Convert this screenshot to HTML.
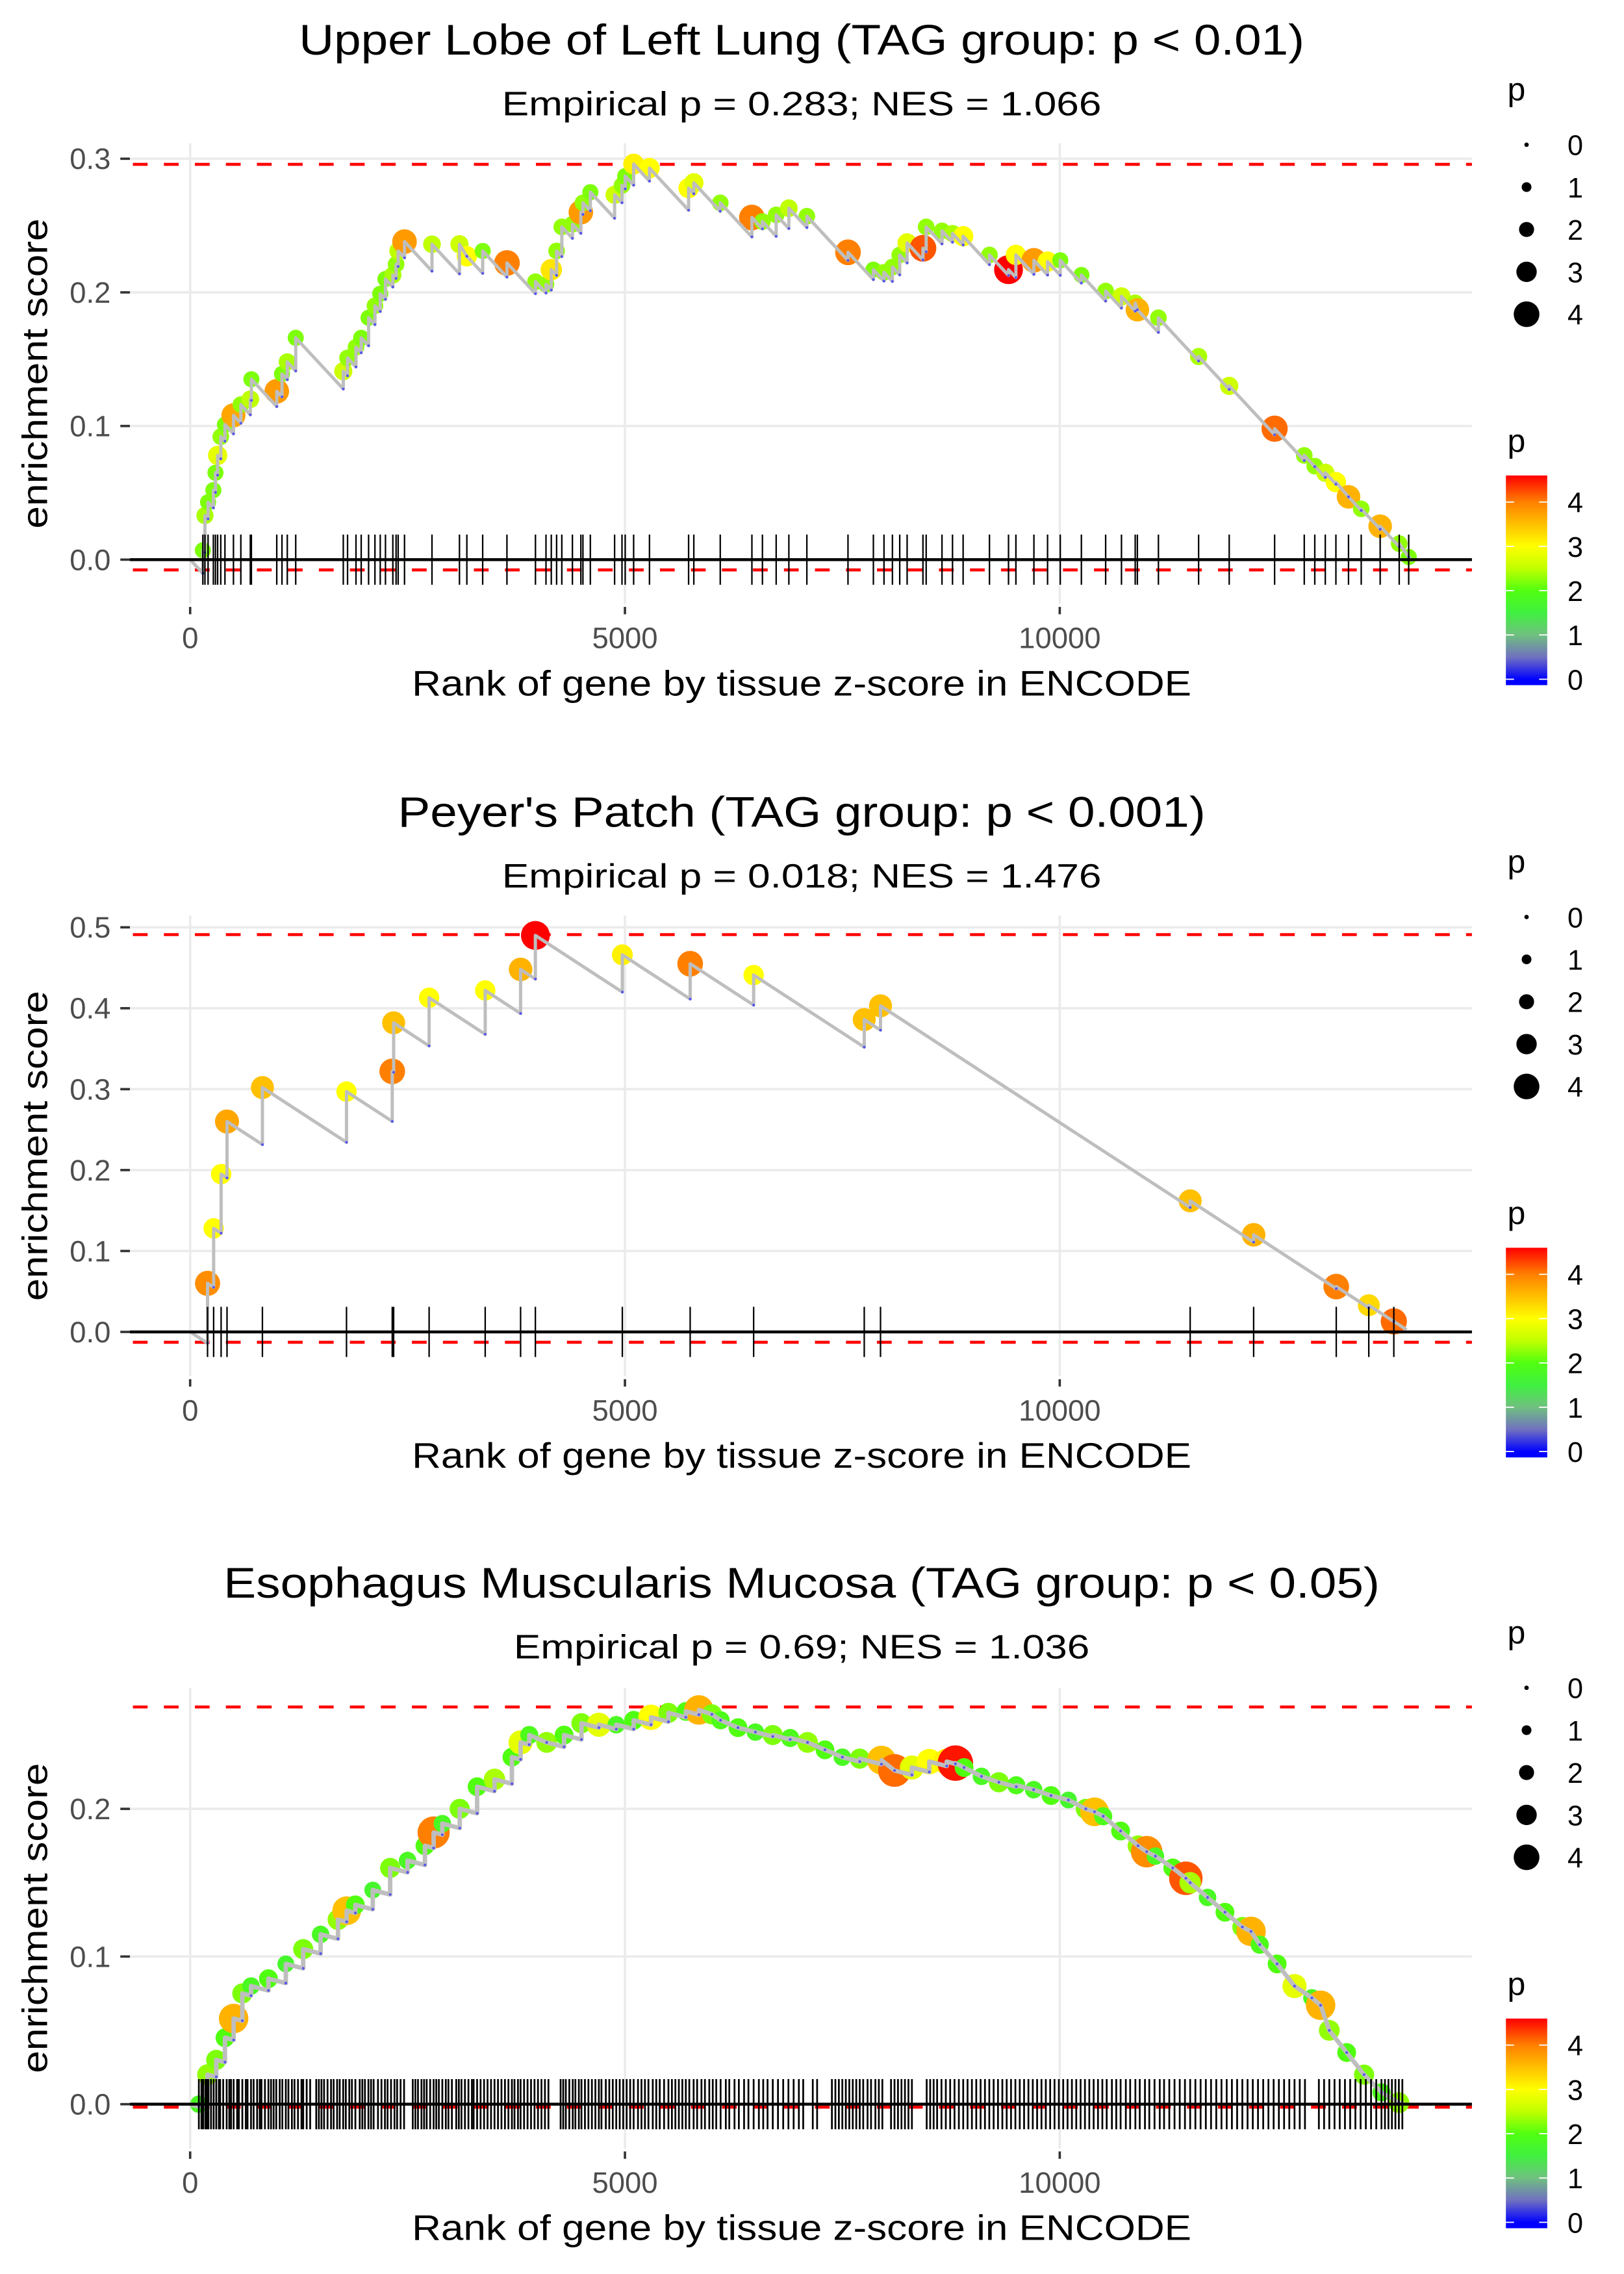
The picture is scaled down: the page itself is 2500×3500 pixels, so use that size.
<!DOCTYPE html>
<html><head><meta charset="utf-8"><title>Enrichment plots</title>
<style>
html,body{margin:0;padding:0;background:#fff;}
svg{display:block;}
text{font-family:"Liberation Sans",Arial,sans-serif;}
</style></head>
<body>
<svg id="chart" xmlns="http://www.w3.org/2000/svg" width="2500" height="3500" viewBox="0 0 1100 1540" preserveAspectRatio="none">
<defs>
<linearGradient id="pgrad" x1="0" y1="1" x2="0" y2="0"></linearGradient>
</defs>
</svg>
<script>
// ---------- Panel 1 data: Upper Lobe of Left Lung ----------
const p1Ranks=[146,170,206,267,291,316,352,400,498,583,692,704,996,1056,1117,1214,1761,1810,1907,1967,2052,2125,2186,2246,2331,2368,2392,2465,2781,3097,3182,3364,3643,3971,4092,4153,4214,4274,4396,4493,4517,4602,4881,4966,5003,5100,5282,5732,5792,6096,6460,6581,6739,6885,7092,7565,7857,7979,8076,8160,8245,8427,8464,8646,8767,8889,9192,9411,9496,9703,9860,10006,10249,10528,10710,10868,10893,11135,11597,11949,12471,12812,12933,13054,13176,13321,13467,13685,13904,14013];
const p1ES=[0.007,0.033,0.043,0.052,0.065,0.078,0.092,0.101,0.108,0.116,0.12,0.135,0.126,0.139,0.148,0.166,0.141,0.151,0.159,0.166,0.181,0.19,0.199,0.21,0.213,0.221,0.231,0.238,0.236,0.236,0.227,0.231,0.222,0.208,0.206,0.217,0.231,0.249,0.251,0.26,0.267,0.275,0.273,0.28,0.287,0.296,0.293,0.278,0.282,0.267,0.256,0.253,0.258,0.263,0.257,0.23,0.217,0.215,0.219,0.228,0.237,0.233,0.249,0.246,0.244,0.242,0.228,0.217,0.228,0.224,0.223,0.224,0.213,0.201,0.197,0.192,0.187,0.181,0.152,0.13,0.098,0.078,0.07,0.065,0.058,0.047,0.038,0.025,0.012,0.002];
const p1P=[2.2,2.4,2.2,2.2,2.2,2.8,2.3,2.2,3.7,2.3,2.5,2.2,3.8,2.2,2.4,2.2,2.6,2.3,2.3,2.2,2.2,2.3,2.2,2.2,2.4,2.3,2.5,3.8,2.5,2.6,3.0,2.2,4.0,2.3,2.3,3.2,2.3,2.3,2.3,3.8,2.3,2.2,2.6,2.3,2.2,3.1,3.0,3.0,2.8,2.3,4.0,2.3,2.3,2.5,2.3,4.0,2.2,2.3,2.3,2.3,2.8,4.2,2.3,2.3,2.4,3.0,2.3,4.6,3.0,3.8,3.0,2.2,2.2,2.3,2.6,2.4,3.6,2.3,2.4,2.6,4.1,2.3,2.3,2.6,3.0,3.6,2.3,3.6,2.3,2.2];
const p1Ticks=["0.0","0.1","0.2","0.3"];
const p1TickVals=[0,0.1,0.2,0.3];
const p1Extremes=[0.2958,-0.0077];

// ---------- Panel 2 data: Peyer's Patch ----------
const p2Ranks=[200,270,356,424,831,1798,2324,2340,2748,3393,3800,3970,4970,5750,6480,7752,7939,11500,12230,13180,13554,13842];
const p2ES=[0.06,0.128,0.195,0.26,0.302,0.297,0.322,0.382,0.413,0.422,0.448,0.49,0.466,0.455,0.441,0.386,0.403,0.162,0.12,0.056,0.033,0.013];
const p2P=[3.9,3.0,3.0,3.7,3.5,3.0,4.0,3.5,3.0,3.0,3.6,4.6,3.1,4.0,3.0,3.5,3.5,3.5,3.6,4.0,3.3,4.1];
const p2Ticks=["0.0","0.1","0.2","0.3","0.4","0.5"];
const p2TickVals=[0,0.1,0.2,0.3,0.4,0.5];
const p2Extremes=[0.491,-0.0128];

// ---------- Panel 3 data: Esophagus Muscularis Mucosa ----------
const p3Ranks=[100,200,300,400,500,600,700,900,1100,1300,1500,1700,1800,1900,2100,2300,2500,2700,2800,2900,3100,3300,3500,3700,3800,3900,4100,4300,4500,4700,4900,5100,5300,5500,5700,5850,6000,6100,6300,6500,6700,6900,7100,7300,7500,7700,7950,8100,8300,8500,8700,8800,8900,9100,9300,9500,9700,9900,10100,10300,10400,10500,10700,10900,11000,11100,11300,11450,11500,11700,11900,12100,12200,12300,12500,12700,12900,13000,13100,13300,13500,13700,13900];
const p3ES=[0.0,0.02,0.03,0.045,0.058,0.075,0.08,0.085,0.095,0.105,0.115,0.125,0.131,0.135,0.145,0.16,0.165,0.175,0.184,0.19,0.2,0.215,0.22,0.235,0.245,0.25,0.245,0.25,0.258,0.257,0.257,0.26,0.262,0.265,0.266,0.267,0.264,0.26,0.255,0.252,0.25,0.248,0.245,0.24,0.235,0.234,0.233,0.226,0.228,0.232,0.232,0.231,0.228,0.222,0.218,0.216,0.213,0.209,0.206,0.2,0.198,0.195,0.185,0.175,0.171,0.168,0.16,0.153,0.15,0.14,0.13,0.12,0.117,0.108,0.095,0.08,0.072,0.067,0.05,0.035,0.02,0.008,0.001];
const p3P=[1.8,2.3,2.2,2.0,3.6,2.2,1.8,2.0,1.7,2.2,1.8,2.3,3.5,2.0,1.7,2.2,1.8,2.0,4.0,1.8,2.2,2.0,2.4,2.0,2.8,1.9,2.3,2.0,2.2,2.8,1.8,2.0,3.0,2.2,2.0,3.6,2.2,1.9,2.0,1.8,2.2,1.9,2.3,2.0,1.8,2.2,3.5,4.1,2.8,3.0,3.1,4.5,2.0,1.8,2.2,1.9,1.8,2.0,1.7,2.2,3.5,1.9,2.0,2.3,3.9,1.8,2.0,4.2,2.4,1.8,2.0,2.2,3.6,1.9,2.0,2.8,1.8,3.6,2.3,2.0,2.2,1.9,2.3];
const p3GeneRanks=[100,130,150,175,190,210,240,270,300,330,345,380,420,450,470,500,540,560,600,640,660,700,730,770,800,820,860,900,930,960,990,1030,1060,1100,1130,1170,1200,1240,1280,1300,1340,1380,1450,1480,1510,1540,1580,1620,1650,1690,1720,1760,1790,1830,1860,1900,1950,1980,2010,2050,2080,2110,2160,2200,2240,2270,2310,2350,2380,2420,2460,2560,2590,2620,2660,2690,2720,2760,2800,2830,2860,2900,2940,2970,3010,3060,3090,3120,3160,3200,3240,3260,3300,3340,3380,3420,3460,3500,3540,3580,3620,3660,3700,3730,3770,3800,3840,3880,3920,3960,4000,4040,4080,4120,4260,4290,4320,4360,4400,4430,4470,4500,4540,4580,4620,4660,4700,4730,4780,4820,4860,4900,4940,4980,5020,5060,5100,5150,5190,5230,5270,5320,5360,5400,5450,5500,5540,5580,5620,5660,5700,5740,5790,5830,5880,5920,5970,6010,6050,6100,6160,6200,6260,6310,6370,6420,6480,6540,6590,6640,6700,6760,6820,6880,6940,7000,7050,7160,7210,7380,7420,7460,7500,7540,7580,7620,7660,7700,7740,7790,7830,7880,7920,7960,8060,8100,8140,8180,8220,8260,8300,8470,8510,8550,8590,8640,8690,8740,8790,8840,8890,8940,8990,9040,9090,9140,9190,9240,9290,9340,9390,9440,9490,9540,9590,9640,9690,9740,9790,9840,9890,9940,9990,10040,10090,10140,10190,10240,10290,10340,10390,10440,10490,10540,10600,10650,10700,10760,10810,10870,10920,10980,11030,11090,11150,11200,11260,11320,11380,11440,11500,11560,11620,11680,11740,11800,11860,11920,11980,12040,12100,12160,12220,12280,12340,12400,12460,12520,12580,12640,12700,12760,12820,12980,13040,13100,13160,13220,13280,13340,13400,13460,13520,13580,13640,13700,13740,13780,13820,13860,13900,13940];
const p3Ticks=["0.0","0.1","0.2"];
const p3TickVals=[0,0.1,0.2];
const p3Extremes=[0.269,-0.002];

const xTickVals=[0,5000,10000];
const xTickLabels=["0","5000","10000"];
const legendSizes=[0,1,2,3,4];
const colorbarLabels=[0,1,2,3,4];

const NS="http://www.w3.org/2000/svg";
const svg=document.getElementById('chart');
function mk(tag,attrs,parent){const e=document.createElementNS(NS,tag);for(const k in attrs)e.setAttribute(k,attrs[k]);(parent||svg).appendChild(e);return e;}

const stops=[[0,[0,0,255]],[0.5,[112,112,192]],[1.0,[112,192,128]],[1.5,[64,240,64]],[2.0,[80,255,16]],[2.5,[192,255,0]],[3.0,[255,255,0]],[3.5,[255,192,0]],[4.0,[255,128,0]],[4.6,[255,0,0]]];
function colorFor(p){
  if(p<=stops[0][0])return 'rgb(0,0,255)';
  for(let i=1;i<stops.length;i++){if(p<=stops[i][0]){const a=stops[i-1],b=stops[i];const t=(p-a[0])/(b[0]-a[0]);const c=a[1].map((v,j)=>Math.round(v+(b[1][j]-v)*t));return 'rgb('+c.join(',')+')';}}
  return 'rgb(255,0,0)';
}
function radiusFor(p){return 1.5+1.8*p;}

const grad=document.getElementById('pgrad');
mk('stop',{offset:'0','stop-color':'rgb(0,0,255)'},grad);
stops.forEach(s=>{mk('stop',{offset:((s[0]+0.13)/4.73).toFixed(3),'stop-color':'rgb('+s[1].join(',')+')'},grad);});

function x(r){return 128.8+0.0589*r;}

function drawPanel(cfg){
  const g=mk('g',{});
  
  
  const oy=cfg.oy;
  const y=v=>cfg.y0-v*cfg.scale;
  const t=mk('text',{x:543,y:oy+37,'text-anchor':'middle','font-size':29,fill:'#000',textLength:cfg.titleW,lengthAdjust:'spacingAndGlyphs'},g);
  t.textContent=cfg.title;
  
  
  const st=mk('text',{x:543,y:oy+78,'text-anchor':'middle','font-size':23,fill:'#000',textLength:cfg.subW,lengthAdjust:'spacingAndGlyphs'},g);
  st.textContent=cfg.sub;
  
  
  const grid=mk('g',{},g);
  
  
  cfg.tickVals.forEach(v=>{mk('line',{x1:88,x2:997,y1:y(v),y2:y(v),stroke:'#ebebeb','stroke-width':1.6},grid);});
  xTickVals.forEach(v=>{mk('line',{x1:x(v),x2:x(v),y1:cfg.top,y2:cfg.top+312,stroke:'#ebebeb','stroke-width':1.6},grid);});
  cfg.tickVals.forEach((v,i)=>{
    mk('line',{x1:81.5,x2:88,y1:y(v),y2:y(v),stroke:'#333','stroke-width':1.6},g);
    const lb=mk('text',{x:75,y:y(v)+7,'text-anchor':'end','font-size':20,fill:'#4d4d4d'},g);
    lb.textContent=cfg.ticks[i];
    
    
  });
  xTickVals.forEach((v,i)=>{
    mk('line',{x1:x(v),x2:x(v),y1:cfg.top+314,y2:cfg.top+319,stroke:'#333','stroke-width':1.6},g);
    const lb=mk('text',{x:x(v),y:cfg.top+342,'text-anchor':'middle','font-size':20,fill:'#4d4d4d'},g);
    lb.textContent=xTickLabels[i];
    
    
  });
  cfg.ext.forEach(v=>{const l=mk('line',{x1:90,x2:997,y1:y(v),y2:y(v),stroke:'#ff0000','stroke-width':2,'stroke-dasharray':'10 11'},g);
    
    });
  const pts=mk('g',{},g);
  
  
  cfg.ranks.forEach((r,i)=>{
    const c=mk('circle',{cx:x(r),cy:y(cfg.es[i]),r:radiusFor(cfg.p[i])*cfg.rScale,fill:colorFor(cfg.p[i])},pts);
    
    
  });
  let d='M'+x(0)+','+y(0);let prevR=0,prevE=0;const bottoms=[];
  cfg.ranks.forEach((r,i)=>{
    let b=prevE-cfg.slope*(r-prevR); if(b>cfg.es[i])b=cfg.es[i];
    bottoms.push(b);
    d+=' L'+x(r).toFixed(2)+','+y(b).toFixed(2)+' L'+x(r).toFixed(2)+','+y(cfg.es[i]).toFixed(2);
    prevR=r;prevE=cfg.es[i];
  });
  const endE=Math.max(prevE-cfg.slope*(cfg.end-prevR),-0.002);
  d+=' L'+x(cfg.end)+','+y(endE);
  const rl=mk('path',{d:d,fill:'none',stroke:'#bebebe','stroke-width':cfg.lineW,'stroke-linejoin':'round'},g);
  
  
  cfg.ranks.forEach((r,i)=>{const c=mk('circle',{cx:x(r),cy:y(bottoms[i]),r:0.9,fill:'#5555ee'},g);
    
    });
  const z=mk('line',{x1:88,x2:997,y1:y(0),y2:y(0),stroke:'#000','stroke-width':2},g);
  
  
  const rug=mk('g',{},g);
  
  
  cfg.rug.forEach(r=>{mk('line',{x1:x(r),x2:x(r),y1:y(0)-17,y2:y(0)+17,stroke:'#000','stroke-width':cfg.rugW},rug);});
  const xt=mk('text',{x:543,y:cfg.top+374,'text-anchor':'middle','font-size':24,fill:'#000',textLength:528,lengthAdjust:'spacingAndGlyphs'},g);
  xt.textContent='Rank of gene by tissue z-score in ENCODE';
  
  
  const ym=cfg.top+156;
  const yt=mk('text',{x:0,y:0,'text-anchor':'middle','font-size':24,fill:'#000',transform:'translate(32,'+ym+') rotate(-90)',textLength:210,lengthAdjust:'spacingAndGlyphs'},g);
  yt.textContent='enrichment score';
  
  
  const lg=mk('g',{},g);
  
  
  const lt=mk('text',{x:1021,y:oy+68,'font-size':22,fill:'#000'},lg);lt.textContent='p';
  legendSizes.forEach((s,i)=>{
    const cy=oy+98+28.7*i;
    mk('circle',{cx:1034,cy:cy,r:radiusFor(s),fill:'#000'},lg);
    const tx=mk('text',{x:1067,y:cy+7,'text-anchor':'middle','font-size':19,fill:'#000'},lg);tx.textContent=String(s);
  });
  const cg=mk('g',{},g);
  
  
  const ct=mk('text',{x:1021,y:oy+306,'font-size':22,fill:'#000'},cg);ct.textContent='p';
  mk('rect',{x:1020,y:oy+322,width:28,height:142,fill:'url(#pgrad)'},cg);
  colorbarLabels.forEach(v=>{
    const yy=oy+460-30*v;
    mk('line',{x1:1020,x2:1025.5,y1:yy,y2:yy,stroke:'#fff','stroke-width':0.8},cg);
    mk('line',{x1:1042.5,x2:1048,y1:yy,y2:yy,stroke:'#fff','stroke-width':0.8},cg);
    const tx=mk('text',{x:1067,y:yy+7,'text-anchor':'middle','font-size':19,fill:'#000'},cg);tx.textContent=String(v);
  });
}

drawPanel({name:'panel-upper-lobe-left-lung',oy:0,top:97,y0:379,scale:905,title:'Upper Lobe of Left Lung (TAG group: p < 0.01)',titleW:681,sub:'Empirical p = 0.283; NES = 1.066',subW:406,ticks:p1Ticks,tickVals:p1TickVals,ext:p1Extremes,ranks:p1Ranks,es:p1ES,p:p1P,rug:p1Ranks,rugW:1.0,slope:7e-5,end:14060,lineW:2.2,rScale:1});
drawPanel({name:'panel-peyers-patch',oy:523,top:620,y0:902,scale:548,title:"Peyer's Patch (TAG group: p < 0.001)",titleW:547,sub:'Empirical p = 0.018; NES = 1.476',subW:406,ticks:p2Ticks,tickVals:p2TickVals,ext:p2Extremes,ranks:p2Ranks,es:p2ES,p:p2P,rug:p2Ranks,rugW:1.0,slope:7e-5,end:13990,lineW:2.2,rScale:1});
drawPanel({name:'panel-esophagus-muscularis-mucosa',oy:1045,top:1143,y0:1425,scale:1000,title:'Esophagus Muscularis Mucosa (TAG group: p < 0.05)',titleW:783,sub:'Empirical p = 0.69; NES = 1.036',subW:390,ticks:p3Ticks,tickVals:p3TickVals,ext:p3Extremes,ranks:p3Ranks,es:p3ES,p:p3P,rug:p3GeneRanks,rugW:1.2,slope:1.5e-5,end:13960,lineW:3,rScale:1.25});
</script>
</body></html>
